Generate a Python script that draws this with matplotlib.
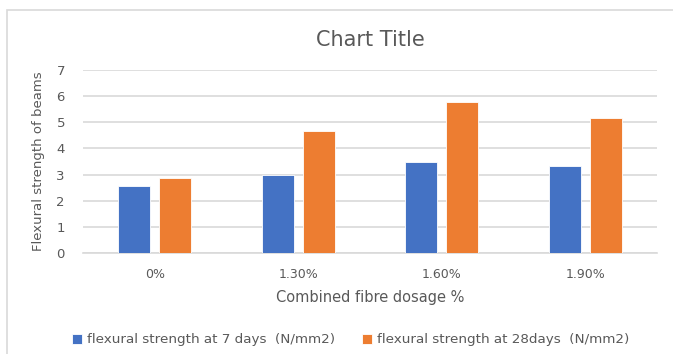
import matplotlib.pyplot as plt
import matplotlib.patches as patches
import numpy as np

# flexural strength of beams per combined fibre dosage
dosages = ["0%", "1.30%", "1.60%", "1.90%"]
strength_7d = [2.55, 3.0, 3.5, 3.33]
strength_28d = [2.85, 4.65, 5.77, 5.17]
series_labels = ["flexural strength at 7 days  (N/mm2)",
                 "flexural strength at 28days  (N/mm2)"]

blue = "#4472C4"
orange = "#ED7D31"
text_grey = "#595959"
grid_grey = "#D9D9D9"

plt.rcParams['font.family'] = ['DejaVu Sans']

fig = plt.figure(figsize=(6.73, 3.54), dpi=100)
fig.patch.set_facecolor("white")

# outer chart frame, running off the right and bottom edges
frame = patches.Rectangle((7 / 673, -0.2), 1.2, 0.2 + (354 - 10) / 354,
                          transform=fig.transFigure, fill=False,
                          edgecolor=grid_grey, linewidth=1.2)
fig.patches.append(frame)

ax = fig.add_axes([83 / 673, (354 - 253) / 354, 574 / 673, 183 / 354])

x = np.arange(len(dosages))
width = 0.223
offset = 0.142
ax.bar(x - offset, strength_7d, width, color=blue, edgecolor="white",
       linewidth=0.6, label=series_labels[0], zorder=3)
ax.bar(x + offset, strength_28d, width, color=orange, edgecolor="white",
       linewidth=0.6, label=series_labels[1], zorder=3)

ax.set_xlim(-0.5, len(dosages) - 0.5)
ax.set_ylim(0, 7)
ax.set_yticks(range(0, 8))
ax.set_xticks(x)
ax.set_xticklabels(dosages)
ax.grid(axis="y", color=grid_grey, linewidth=1.2, zorder=0)
for side in ["top", "right", "left"]:
    ax.spines[side].set_visible(False)
ax.spines["bottom"].set_color(grid_grey)
ax.spines["bottom"].set_linewidth(1.2)
ax.tick_params(axis="both", length=0, labelsize=9, colors=text_grey)
ax.tick_params(axis="y", labelsize=9.5)
ax.tick_params(axis="x", pad=10.5)
ax.tick_params(axis="y", pad=13)

ax.set_title("Chart Title", fontsize=15, color=text_grey, pad=17)
ax.set_xlabel("Combined fibre dosage %", fontsize=10.5, color=text_grey,
              labelpad=6.5)
ax.set_ylabel("Flexural strength of beams", fontsize=9.5, color=text_grey,
              labelpad=8)

fig.legend(loc="center left", bbox_to_anchor=(60 / 673, (354 - 340) / 354),
           ncol=2, frameon=False, fontsize=9.7, labelcolor=text_grey,
           handlelength=0.75, handleheight=0.75, handletextpad=0.35,
           columnspacing=2.0)

fig.savefig("out.png", dpi=100)
